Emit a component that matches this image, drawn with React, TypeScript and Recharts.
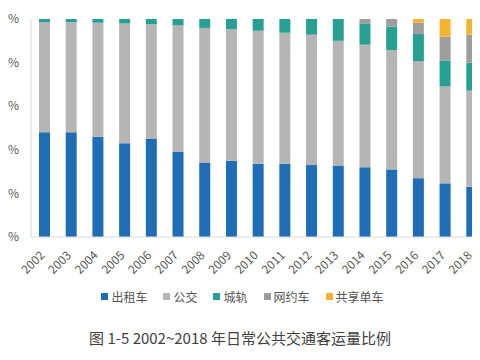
import { Bar, BarChart, Legend, XAxis, YAxis } from "recharts"

const years = ["2002", "2003", "2004", "2005", "2006", "2007", "2008", "2009", "2010", "2011", "2012", "2013", "2014", "2015", "2016", "2017", "2018"]
const taxi = [48, 48, 46, 43, 45, 39, 34, 35, 33.6, 33.6, 33, 32.6, 32, 31, 27, 24.6, 23]
const bus = [50.6, 50.5, 52.3, 55, 52.6, 58.1, 61.9, 60.4, 61, 60.1, 59.8, 57.4, 56.2, 54.8, 53.7, 44.5, 44.1]
const rail = [1.4, 1.5, 1.7, 2, 2.4, 2.9, 4.1, 4.6, 5.4, 6.3, 7.2, 10, 9.8, 10.7, 12.4, 11.9, 12.9]
const rideHailing = [0, 0, 0, 0, 0, 0, 0, 0, 0, 0, 0, 0, 2, 3.5, 5.2, 10.9, 12.8]
const sharedBike = [0, 0, 0, 0, 0, 0, 0, 0, 0, 0, 0, 0, 0, 0, 1.7, 8.1, 7.2]
const yTicks = [0, 20, 40, 60, 80, 100]

const series = [
  { key: "出租车", values: taxi, color: "#1f6db5" },
  { key: "公交", values: bus, color: "#b5b5b5" },
  { key: "城轨", values: rail, color: "#27a093" },
  { key: "网约车", values: rideHailing, color: "#9d9d9d" },
  { key: "共享单车", values: sharedBike, color: "#f4b431" },
]
const order = series.map((s) => s.key)

const data = years.map((year, i) => {
  const row: Record<string, string | number> = { year }
  series.forEach((s) => {
    row[s.key] = s.values[i]
  })
  return row
})

const font = '"Noto Sans CJK SC", "Noto Sans", sans-serif'

function LegendContent(props: any) {
  const items = [...(props.payload || [])].sort((a: any, b: any) => order.indexOf(a.value) - order.indexOf(b.value))
  return (
    <div style={{ display: "flex", justifyContent: "center", fontFamily: font, fontSize: 12, color: "#555", height: 19, alignItems: "center" }}>
      {items.map((item: any, i: number) => (
        <div key={item.value} style={{ display: "flex", alignItems: "center", marginLeft: i === 0 ? 0 : 16 }}>
          <span style={{ width: 7, height: 7, background: item.color, display: "inline-block", marginRight: 3 }} />
          <span>{item.value}</span>
        </div>
      ))}
    </div>
  )
}

function YearTick(props: any) {
  const { x, y, payload } = props
  return (
    <text
      x={x + 1}
      y={y + 11}
      textAnchor="end"
      transform={`rotate(-45, ${x + 1}, ${y + 11})`}
      fill="#595959"
      fontSize={12}
      fontFamily={font}
    >
      {payload.value}
    </text>
  )
}

export default function App() {
  return (
    <div style={{ margin: -8, width: 480, height: 360, overflow: "hidden", position: "relative", background: "#fff" }}>
      <div style={{ position: "absolute", left: 0, top: 0 }}>
        <BarChart width={500} height={306} data={data} margin={{ top: 19, right: 15, left: 0, bottom: 0 }}>
          <XAxis
            dataKey="year"
            interval={0}
            height={50}
            tickLine={false}
            axisLine={{ stroke: "#d9d9d9" }}
            tick={<YearTick />}
          />
          <YAxis
            width={31}
            domain={[0, 100]}
            ticks={yTicks}
            tickFormatter={(v) => `${v}%`}
            tickLine={false}
            tickMargin={6}
            axisLine={{ stroke: "#d9d9d9" }}
            tick={{ fill: "#595959", fontSize: 12, fontFamily: font }}
          />
          <Legend verticalAlign="bottom" content={<LegendContent />} />
          {series.map((s) => (
            <Bar key={s.key} dataKey={s.key} stackId="a" fill={s.color} barSize={11} isAnimationActive={false} />
          ))}
        </BarChart>
      </div>
      <div
        style={{
          position: "absolute",
          top: 327,
          left: 0,
          width: 480,
          textAlign: "center",
          fontFamily: font,
          fontSize: 15,
          color: "#404040",
        }}
      >
        图 1-5 2002~2018 年日常公共交通客运量比例
      </div>
    </div>
  )
}
